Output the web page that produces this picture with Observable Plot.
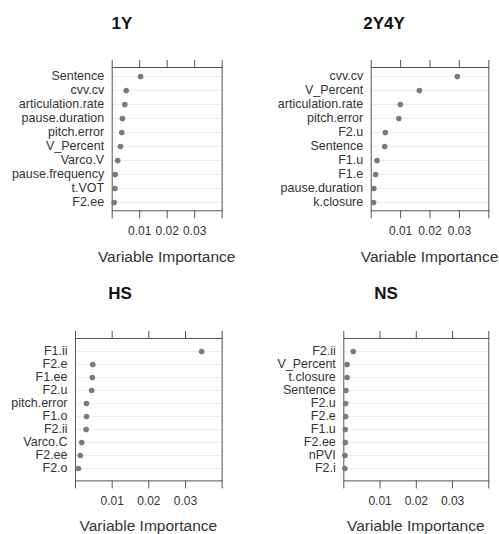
<!DOCTYPE html>
<html>
<head>
<meta charset="utf-8">
<script src="https://cdn.jsdelivr.net/npm/d3@7"></script>
<script src="https://cdn.jsdelivr.net/npm/@observablehq/plot@0.6"></script>
<style>
  html, body { margin: 0; padding: 0; background: #fff; }
  #root { position: relative; width: 499px; height: 534px; background: #fff; overflow: hidden;
          font-family: "Liberation Sans", Arial, sans-serif; }
  .ttl { position: absolute; font-weight: bold; font-size: 17px; color: #111; transform: translate(-50%, -50%); white-space: nowrap; line-height: 1; }
  .xl { position: absolute; font-size: 15.5px; color: #333; transform: translate(-50%, -50%); white-space: nowrap; line-height: 1; }
  .pn { position: absolute; }
</style>
</head>
<body>
<div id="root"></div>
<script>
// ---- data ----
const titles = ["1Y", "2Y4Y", "HS", "NS"];

const names1Y = ["Sentence", "cvv.cv", "articulation.rate", "pause.duration", "pitch.error", "V_Percent", "Varco.V", "pause.frequency", "t.VOT", "F2.ee"];
const vals1Y  = [0.0103, 0.0051, 0.0046, 0.0037, 0.0035, 0.0030, 0.0020, 0.0011, 0.0010, 0.0007];

const names2Y4Y = ["cvv.cv", "V_Percent", "articulation.rate", "pitch.error", "F2.u", "Sentence", "F1.u", "F1.e", "pause.duration", "k.closure"];
const vals2Y4Y  = [0.0293, 0.0164, 0.0099, 0.0094, 0.0048, 0.0046, 0.0020, 0.0015, 0.0009, 0.0008];

const namesHS = ["F1.ii", "F2.e", "F1.ee", "F2.u", "pitch.error", "F1.o", "F2.ii", "Varco.C", "F2.ee", "F2.o"];
const valsHS  = [0.0344, 0.0047, 0.0046, 0.0044, 0.0030, 0.0030, 0.0029, 0.0017, 0.0013, 0.0008];

const namesNS = ["F2.ii", "V_Percent", "t.closure", "Sentence", "F2.u", "F2.e", "F1.u", "F2.ee", "nPVI", "F2.i"];
const valsNS  = [0.0026, 0.0009, 0.0009, 0.0006, 0.0005, 0.0005, 0.0004, 0.0004, 0.0003, 0.0003];

const xTicks = [0, 0.01, 0.02, 0.03, 0.04];
const xDomain = [0, 0.04];
const xLabel = "Variable Importance";

// ---- layout ----
const panels = [
  {title: titles[0], names: names1Y,   vals: vals1Y,   px: 0,   pw: 250, fl: 111.7, fr: 221.7, ft: 66.7,  fb: 210,   tx: 122, ty: 23,  xo: 47},
  {title: titles[1], names: names2Y4Y, vals: vals2Y4Y, px: 250, pw: 249, fl: 370.7, fr: 488.3, ft: 66.7,  fb: 210,   tx: 384, ty: 23,  xo: 47},
  {title: titles[2], names: namesHS,   vals: valsHS,   px: 0,   pw: 250, fl: 75,    fr: 221.7, ft: 338.3, fb: 480.7, tx: 120, ty: 293, xo: 45},
  {title: titles[3], names: namesNS,   vals: valsNS,   px: 250, pw: 249, fl: 343.3, fr: 488.3, ft: 338.3, fb: 480.7, tx: 386, ty: 293, xo: 45}
];

const root = document.getElementById("root");
const padT = 20, padB = 34;

for (const p of panels) {
  const data = p.names.map((n, i) => ({name: n, value: p.vals[i]}));
  const h = (p.fb - p.ft) + padT + padB;
  const chart = Plot.plot({
    width: p.pw,
    height: h,
    marginLeft: p.fl - p.px,
    marginRight: p.px + p.pw - p.fr,
    marginTop: padT,
    marginBottom: padB,
    style: {fontFamily: "'Liberation Sans', Arial, sans-serif", color: "#333", background: "transparent", overflow: "visible"},
    x: {domain: xDomain},
    y: {type: "point", domain: p.names, padding: 0.6},
    marks: [
      Plot.ruleY(p.names, {y: d => d, stroke: "#ececec", strokeWidth: 1}),
      Plot.frame({stroke: "#555", strokeWidth: 1}),
      Plot.axisX({anchor: "top", ticks: xTicks, tickSize: 8, tickFormat: () => "", label: null, stroke: "#555"}),
      Plot.axisX({anchor: "bottom", ticks: xTicks, tickSize: 8, tickPadding: 8, fontSize: 12, label: null, stroke: "#555",
                  tickFormat: d => (d > 0.001 && d < 0.039) ? d3.format(".2f")(d) : ""}),
      Plot.axisY({tickSize: 0, tickPadding: 8, fontSize: 12.5, label: null}),
      Plot.dot(data, {x: "value", y: "name", r: 2.8, fill: "#7a7a7a", stroke: "none"})
    ]
  });
  chart.classList.add("pn");
  chart.style.left = p.px + "px";
  chart.style.top = (p.ft - padT) + "px";
  root.appendChild(chart);

  const t = document.createElement("div");
  t.className = "ttl";
  t.textContent = p.title;
  t.style.left = p.tx + "px";
  t.style.top = p.ty + "px";
  root.appendChild(t);

  const xl = document.createElement("div");
  xl.className = "xl";
  xl.textContent = xLabel;
  xl.style.left = ((p.fl + p.fr) / 2) + "px";
  xl.style.top = (p.fb + p.xo) + "px";
  root.appendChild(xl);
}
</script>
</body>
</html>
